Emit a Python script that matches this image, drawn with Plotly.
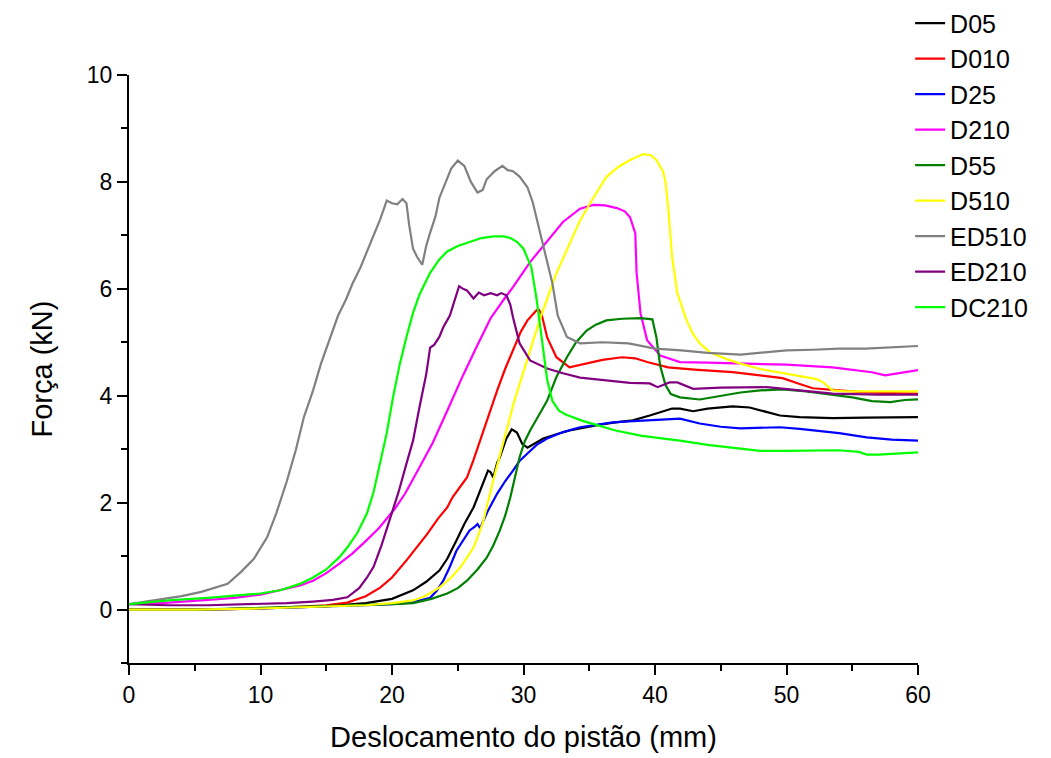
import plotly.graph_objects as go

# ---------------- data ----------------
d05_x = [0, 5, 10, 15, 18, 20, 21.6, 22.6, 23.6, 24.2, 24.9, 25.5, 26.2, 26.9, 27.3, 27.5, 27.7, 28.0, 28.2, 28.7, 29.1, 29.5, 29.9, 30.3, 30.8, 31.5, 32.5, 33.5, 34.5, 35.8, 37, 38.3, 39.6, 40.5, 41.3, 41.9, 42.9, 44, 45.9, 47.2, 48.5, 49.5, 51, 53.5, 56, 58, 60]
d05_y = [0.0, 0.0, 0.02, 0.06, 0.12, 0.2, 0.36, 0.52, 0.73, 0.95, 1.29, 1.6, 1.91, 2.36, 2.6, 2.57, 2.47, 2.75, 2.85, 3.2, 3.37, 3.31, 3.1, 3.03, 3.1, 3.2, 3.28, 3.35, 3.4, 3.46, 3.5, 3.54, 3.63, 3.7, 3.76, 3.76, 3.71, 3.76, 3.8, 3.78, 3.7, 3.63, 3.6, 3.58, 3.59, 3.6, 3.6]

d010_x = [0, 5, 10, 13, 15, 16.6, 18, 19.1, 20, 21.1, 22, 22.7, 23.5, 24.2, 24.6, 25.2, 25.7, 26.2, 26.7, 27.2, 28, 28.6, 29.2, 29.8, 30.3, 31, 31.2, 31.4, 31.8, 32.5, 33.5, 34.8, 36, 37.5, 38.5, 39.4, 41, 43, 45.9, 48, 49.7, 51, 52, 54, 56.1, 58, 60]
d010_y = [0.0, 0.0, 0.02, 0.05, 0.08, 0.13, 0.25, 0.41, 0.6, 0.92, 1.2, 1.42, 1.7, 1.91, 2.1, 2.3, 2.47, 2.8, 3.16, 3.55, 4.1, 4.5, 4.85, 5.2, 5.41, 5.6, 5.6, 5.5, 5.09, 4.72, 4.53, 4.61, 4.67, 4.72, 4.7, 4.63, 4.53, 4.49, 4.44, 4.38, 4.33, 4.22, 4.14, 4.1, 4.06, 4.05, 4.04]

d25_x = [0, 5, 10, 15, 18, 20, 21.5, 22.9, 23.4, 23.9, 24.4, 24.9, 25.4, 25.9, 26.3, 26.5, 26.7, 27.3, 28.0, 28.6, 29.2, 29.7, 30.3, 31.0, 31.8, 33, 34.3, 35.5, 36.8, 38, 39.4, 40.9, 41.9, 43.4, 45, 46.5, 48, 49.5, 51, 52.3, 54, 56.1, 58, 60]
d25_y = [0.0, 0.0, 0.02, 0.05, 0.08, 0.1, 0.13, 0.22, 0.35, 0.54, 0.8, 1.1, 1.3, 1.48, 1.55, 1.6, 1.52, 1.85, 2.17, 2.4, 2.6, 2.78, 2.92, 3.08, 3.2, 3.32, 3.41, 3.46, 3.5, 3.52, 3.54, 3.56, 3.57, 3.48, 3.42, 3.39, 3.4, 3.41, 3.38, 3.35, 3.3, 3.22, 3.18, 3.16]

d210_x = [0, 3, 6, 8, 10, 11.5, 13, 14, 15, 16, 17, 18, 19, 20.2, 21, 22, 23.1, 24.2, 25.4, 26.5, 27.5, 28.5, 29.2, 30.5, 31.8, 33, 34.3, 35.3, 36.2, 37.1, 37.7, 38.1, 38.5, 38.6, 38.9, 39.4, 40.4, 41.9, 44, 47.2, 50, 53.5, 55, 56.5, 57.5, 58.5, 60]
d210_y = [0.1, 0.13, 0.18, 0.22, 0.28, 0.36, 0.45, 0.54, 0.68, 0.86, 1.05, 1.28, 1.52, 1.88, 2.17, 2.62, 3.12, 3.72, 4.38, 4.95, 5.45, 5.8, 6.03, 6.5, 6.9, 7.25, 7.5, 7.57, 7.56, 7.51, 7.45, 7.34, 7.04, 6.3, 5.54, 5.04, 4.75, 4.63, 4.62, 4.6, 4.58, 4.53, 4.48, 4.44, 4.38, 4.42, 4.48]

d55_x = [0, 5, 10, 15, 18, 20, 21.6, 23, 24.2, 25, 25.7, 26.5, 27.2, 27.7, 28.2, 28.6, 29, 29.4, 29.7, 30.1, 30.5, 31.2, 31.8, 32.5, 33.3, 34, 34.8, 35.5, 36.3, 37.5, 38.9, 39.8, 40.1, 40.4, 40.8, 41.2, 41.9, 43.4, 45, 46.5, 48, 49.7, 51.5, 53.5, 55, 56.5, 57.9, 59, 60]
d55_y = [0.0, 0.0, 0.03, 0.06, 0.08, 0.1, 0.12, 0.2, 0.3, 0.4, 0.54, 0.75, 0.97, 1.2, 1.48, 1.75, 2.1, 2.5, 2.85, 3.15, 3.35, 3.65, 3.91, 4.35, 4.72, 5.0, 5.22, 5.33, 5.41, 5.44, 5.45, 5.43, 5.1, 4.55, 4.2, 4.03, 3.97, 3.93, 4.0, 4.06, 4.1, 4.12, 4.08, 4.01, 3.97, 3.9, 3.88, 3.92, 3.93]

d510_x = [0, 5, 10, 15, 18, 20, 21.6, 22.5, 23.6, 24.5, 25.2, 26.2, 26.9, 27.7, 28.5, 29.3, 30, 31.3, 32.5, 33.5, 34.3, 35.3, 36.3, 37.2, 38.1, 39.1, 39.7, 40.1, 40.6, 40.8, 41.0, 41.3, 41.7, 42.4, 42.9, 43.4, 44.2, 45.5, 46.5, 48, 49.7, 51, 52.3, 52.8, 53.5, 54.5, 56.1, 58, 60]
d510_y = [0.0, 0.0, 0.02, 0.05, 0.08, 0.12, 0.17, 0.25, 0.41, 0.6, 0.79, 1.16, 1.61, 2.42, 3.16, 3.9, 4.45, 5.47, 6.29, 6.85, 7.28, 7.7, 8.09, 8.28, 8.41, 8.52, 8.5, 8.41, 8.2, 8.0, 7.53, 6.59, 5.92, 5.41, 5.15, 4.98, 4.81, 4.68, 4.6, 4.5, 4.42, 4.36, 4.31, 4.25, 4.1, 4.08, 4.08, 4.09, 4.08]

ed510_x = [0, 2, 4, 5.5, 6.5, 7.5, 8.5, 9.5, 10.5, 11.2, 12, 12.7, 13.3, 14, 14.6, 15.3, 15.9, 16.5, 17, 17.6, 18.1, 18.6, 19.1, 19.6, 20, 20.4, 20.8, 21.1, 21.3, 21.6, 21.9, 22.3, 22.6, 22.9, 23.3, 23.6, 24.0, 24.5, 25.0, 25.5, 26.0, 26.5, 26.9, 27.2, 27.8, 28.4, 28.8, 29.2, 29.7, 30.3, 30.7, 31.1, 31.5, 32.2, 32.6, 33.3, 34.3, 36, 38, 40, 42, 44, 46.5, 48, 50, 52, 54, 56, 58, 60]
ed510_y = [0.1, 0.17, 0.25, 0.33, 0.4, 0.48, 0.7, 0.95, 1.35, 1.8, 2.4, 3.0, 3.6, 4.1, 4.6, 5.1, 5.5, 5.8, 6.1, 6.4, 6.7, 7.0, 7.3, 7.65, 7.6, 7.58, 7.68, 7.6, 7.2, 6.75, 6.6, 6.45, 6.8, 7.05, 7.35, 7.7, 7.95, 8.25, 8.4, 8.3, 8.0, 7.8, 7.85, 8.05, 8.2, 8.3, 8.22, 8.2, 8.1, 7.9, 7.62, 7.2, 6.8, 6.1, 5.5, 5.1, 4.98, 5.0, 4.98, 4.88, 4.85, 4.8, 4.77, 4.8, 4.85, 4.86, 4.88, 4.88, 4.9, 4.93]

ed210_x = [0, 3, 6, 9, 12, 14, 15.5, 16.6, 17.5, 18.1, 18.6, 19.2, 19.8, 20.5, 21.1, 21.6, 22.1, 22.6, 22.9, 23.2, 23.6, 23.9, 24.4, 24.8, 25.1, 25.4, 25.7, 26.0, 26.2, 26.6, 27.0, 27.5, 28.0, 28.3, 28.7, 29.0, 29.2, 29.7, 30.5, 31.8, 33, 34.3, 36, 38.1, 39.6, 40.2, 41.1, 41.7, 42.9, 45, 48.5, 51, 53.5, 57, 60]
ed210_y = [0.1, 0.08, 0.08, 0.1, 0.12, 0.15, 0.18, 0.23, 0.4, 0.6, 0.8, 1.2, 1.67, 2.2, 2.73, 3.16, 3.8, 4.4, 4.9, 4.95, 5.1, 5.28, 5.5, 5.8, 6.05, 6.0, 5.97, 5.88, 5.82, 5.93, 5.88, 5.92, 5.88, 5.92, 5.88, 5.7, 5.47, 4.98, 4.66, 4.51, 4.42, 4.34, 4.29, 4.24, 4.23, 4.16, 4.25, 4.25, 4.13, 4.15, 4.16, 4.1, 4.04, 4.02, 4.02]

dc210_x = [0, 3, 6, 8, 10, 11.5, 13, 14, 15, 16, 16.6, 17.4, 18.1, 18.6, 19.1, 19.6, 20.1, 20.6, 21.1, 21.6, 22.1, 22.9, 23.6, 24.2, 25, 25.9, 26.8, 27.7, 28.5, 29, 29.5, 30, 30.6, 31, 31.4, 31.8, 32.2, 32.7, 33.2, 34.5, 35.6, 37, 39, 41.9, 44, 46, 48, 50, 52, 54, 55.5, 56.1, 57, 58.5, 60]
dc210_y = [0.1, 0.17, 0.22, 0.26, 0.3, 0.36, 0.48, 0.6, 0.75, 0.98, 1.16, 1.45, 1.8, 2.2, 2.73, 3.3, 4.0, 4.6, 5.1, 5.55, 5.9, 6.3, 6.55, 6.7, 6.8, 6.88, 6.95, 6.98, 6.98, 6.95, 6.88, 6.75, 6.4, 5.8, 5.04, 4.3, 3.9, 3.72, 3.65, 3.53, 3.45, 3.35, 3.25, 3.16, 3.08, 3.02, 2.97, 2.97, 2.98, 2.98, 2.95, 2.9, 2.9, 2.92, 2.94]

series_names = ["D05", "D010", "D25", "D210", "D55", "D510", "ED510", "ED210", "DC210"]
series_x = [d05_x, d010_x, d25_x, d210_x, d55_x, d510_x, ed510_x, ed210_x, dc210_x]
series_y = [d05_y, d010_y, d25_y, d210_y, d55_y, d510_y, ed510_y, ed210_y, dc210_y]
series_colors = ["#000000", "#ff0000", "#0000ff", "#ff00ff", "#008000",
                 "#ffff00", "#808080", "#800080", "#00ff00"]

x_title = "Deslocamento do pistão (mm)"
y_title = "Força (kN)"

# ---------------- figure ----------------
FONT = "Arial, Liberation Sans, sans-serif"
fig = go.Figure()
for name, xs, ys, col in zip(series_names, series_x, series_y, series_colors):
    fig.add_trace(go.Scatter(x=xs, y=ys, mode="lines", name=name,
                             line=dict(color=col, width=2.2)))

axis_common = dict(
    showline=True, linecolor="black", linewidth=2,
    ticks="outside", ticklen=10, tickwidth=2, tickcolor="black",
    showgrid=False, zeroline=False, mirror=False,
    tickfont=dict(family=FONT, size=23, color="black"),
)

fig.update_layout(
    width=1051, height=758,
    margin=dict(l=129, r=133, t=75, b=95, autoexpand=False),
    paper_bgcolor="white", plot_bgcolor="white",
    font=dict(family=FONT, color="black"),
    showlegend=True,
    legend=dict(x=0.99, y=1.127, xanchor="left", yanchor="top",
                font=dict(family=FONT, size=25, color="black"),
                bgcolor="rgba(0,0,0,0)", borderwidth=0, tracegroupgap=0),
    xaxis=dict(range=[0, 60], dtick=10, tick0=0,
               minor=dict(dtick=5, ticklen=6, tickwidth=2, tickcolor="black", ticks="outside"),
               title=dict(text=x_title, font=dict(family=FONT, size=29, color="black"), standoff=20),
               **axis_common),
    yaxis=dict(range=[-1, 10], dtick=2, tick0=0,
               minor=dict(dtick=1, ticklen=6, tickwidth=2, tickcolor="black", ticks="outside"),
               title=dict(text=y_title, font=dict(family=FONT, size=29, color="black"), standoff=26),
               **axis_common),
)

fig.write_html("out.html")
